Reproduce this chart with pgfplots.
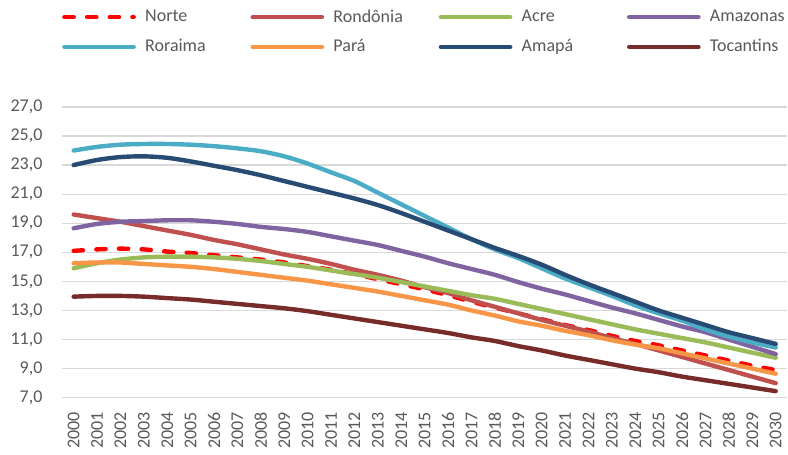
\documentclass[border=0pt]{standalone}
\usepackage{pgfplots}
\usepackage{pgfplotstable}
\pgfplotsset{compat=1.18}
\usepackage{fontspec}
\setmainfont{Carlito}
\definecolor{cNorte}{HTML}{FF0000}
\definecolor{cRon}{HTML}{C0504D}
\definecolor{cAcre}{HTML}{9BBB59}
\definecolor{cAma}{HTML}{8064A2}
\definecolor{cRor}{HTML}{4BACC6}
\definecolor{cPara}{HTML}{F79646}
\definecolor{cAmp}{HTML}{284B73}
\definecolor{cToc}{HTML}{772C2A}
\definecolor{txt}{HTML}{595959}
\definecolor{grd}{HTML}{D9D9D9}
\pgfplotstableread{
ano  Norte Ron   Acre  Ama   Ror   Para  Amp   Toc
2000 17.10 19.60 15.90 18.65 24.00 16.25 23.00 13.95
2001 17.20 19.35 16.25 18.95 24.25 16.30 23.35 14.00
2002 17.25 19.10 16.50 19.10 24.40 16.30 23.55 14.00
2003 17.20 18.80 16.65 19.15 24.45 16.20 23.60 13.95
2004 17.05 18.50 16.70 19.20 24.45 16.10 23.50 13.85
2005 16.95 18.20 16.70 19.20 24.40 16.00 23.25 13.75
2006 16.80 17.85 16.65 19.10 24.30 15.85 22.95 13.60
2007 16.65 17.55 16.55 18.95 24.15 15.65 22.65 13.45
2008 16.50 17.20 16.40 18.75 23.95 15.45 22.30 13.30
2009 16.30 16.85 16.20 18.60 23.60 15.25 21.90 13.15
2010 16.05 16.55 16.00 18.40 23.10 15.05 21.50 12.95
2011 15.80 16.20 15.75 18.10 22.50 14.80 21.10 12.70
2012 15.50 15.80 15.50 17.80 21.90 14.55 20.70 12.45
2013 15.15 15.45 15.25 17.50 21.10 14.30 20.25 12.20
2014 14.80 15.05 14.95 17.10 20.30 14.00 19.70 11.95
2015 14.45 14.60 14.65 16.70 19.50 13.70 19.10 11.70
2016 14.05 14.20 14.35 16.25 18.70 13.40 18.50 11.45
2017 13.60 13.70 14.05 15.85 17.90 13.00 17.90 11.15
2018 13.20 13.25 13.80 15.45 17.20 12.65 17.30 10.90
2019 12.80 12.80 13.45 14.95 16.60 12.25 16.75 10.55
2020 12.40 12.35 13.10 14.50 15.90 11.95 16.15 10.25
2021 12.00 11.95 12.75 14.10 15.20 11.60 15.45  9.90
2022 11.65 11.55 12.40 13.65 14.60 11.30 14.80  9.60
2023 11.25 11.10 12.05 13.20 14.00 10.95 14.20  9.30
2024 10.90 10.70 11.70 12.80 13.35 10.65 13.60  9.00
2025 10.60 10.25 11.40 12.35 12.80 10.40 13.00  8.75
2026 10.25  9.80 11.10 11.90 12.30 10.05 12.50  8.45
2027  9.90  9.35 10.80 11.50 11.70  9.70 12.00  8.20
2028  9.55  8.90 10.45 11.00 11.20  9.35 11.50  7.95
2029  9.20  8.45 10.10 10.50 10.80  9.00 11.10  7.70
2030  8.90  8.00  9.75 10.00 10.45  8.65 10.70  7.45
}\data
\newcommand{\lb}[1]{\hspace{5pt}\makebox[77pt][l]{#1}}
\begin{document}
\fontsize{13.5}{16}\selectfont
\begin{tikzpicture}
\begin{axis}[
  scale only axis,
  width=544.5pt, height=218.25pt,
  xmin=1999.5, xmax=2030.5,
  ymin=7, ymax=27,
  xtick={2000,2001,...,2030},
  ytick={7,9,...,27},
  axis line style={draw=none},
  major tick length=0pt,
  ymajorgrids,
  grid style={grd, line width=0.9pt},
  tick label style={txt, font=\fontsize{13.5}{16}\selectfont},
  /pgf/number format/assume math mode=true,
  xticklabel style={rotate=90, anchor=east, /pgf/number format/1000 sep={}, yshift=0pt, xshift=-6pt},
  yticklabel style={/pgf/number format/.cd, fixed, fixed zerofill, precision=1, use comma, /tikz/.cd, xshift=-10pt},
  clip=false,
  legend columns=4,
  legend style={at={(axis description cs:0.0,1.345)}, anchor=north west, draw=none, fill=none,
    inner sep=0pt, row sep=7pt, font=\fontsize{13.5}{16}\selectfont, text=txt,
    /tikz/every even column/.append style={column sep=0pt}},
  legend cell align=left,
  legend image code/.code={\draw[#1, line cap=round] (0pt,0pt) -- (52pt,0pt);},
  every axis plot/.append style={smooth, line width=3.3pt, line cap=round},
]
\addplot[cNorte, dash pattern=on 7pt off 10pt] table[x=ano, y=Norte] {\data};
\addlegendentry{\lb{Norte}}
\addplot[cRon] table[x=ano, y=Ron] {\data};
\addlegendentry{\lb{Rondônia}}
\addplot[cAcre] table[x=ano, y=Acre] {\data};
\addlegendentry{\lb{Acre}}
\addplot[cAma] table[x=ano, y=Ama] {\data};
\addlegendentry{\hspace{5pt}Amazonas}
\addplot[cRor] table[x=ano, y=Ror] {\data};
\addlegendentry{\lb{Roraima}}
\addplot[cPara] table[x=ano, y=Para] {\data};
\addlegendentry{\lb{Pará}}
\addplot[cAmp] table[x=ano, y=Amp] {\data};
\addlegendentry{\lb{Amapá}}
\addplot[cToc] table[x=ano, y=Toc] {\data};
\addlegendentry{\hspace{5pt}Tocantins}
\path (rel axis cs:0,0) ++(-46.5pt,-38.25pt) coordinate (bbsw);
\path (rel axis cs:1,1) ++(0pt,80.25pt) coordinate (bbne);
\end{axis}
\path (bbsw) rectangle (bbne);
\end{tikzpicture}
\end{document}
